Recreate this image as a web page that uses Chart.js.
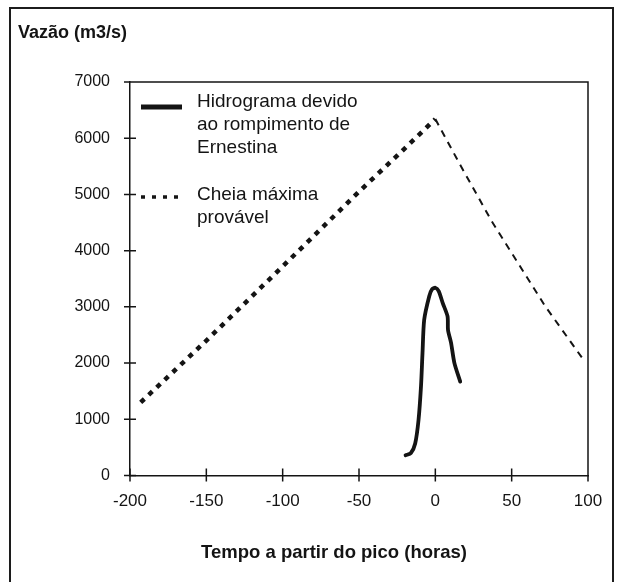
<!DOCTYPE html>
<html>
<head>
<meta charset="utf-8">
<script src="https://cdn.jsdelivr.net/npm/chart.js@4.4.1/dist/chart.umd.min.js"></script>
<style>
    html, body { margin: 0; padding: 0; background: #fff; overflow: hidden; width: 620px; height: 582px; }
    #frame { position: absolute; left: 9px; top: 7px; width: 601px; height: 640px; border: 2px solid #1c1c1c; }
    #wrap { position: absolute; left: 0; top: 0; width: 620px; height: 582px; }
</style>
</head>
<body>
<div id="frame"></div>
<div id="wrap"><canvas id="hidroChart"></canvas></div>
<script>
// Cheia maxima provavel (pontilhado ate o pico, tracejado depois)
var cmpHoras = [-193, -150, -100, -50, -25, 0, 16, 37, 59, 72, 97];
var cmpVazao = [1300, 2400, 3720, 5050, 5690, 6340, 5540, 4520, 3570, 3010, 2060];

// Hidrograma devido ao rompimento de Ernestina
var rompHoras = [-19.5, -16, -13.2, -11, -9.4, -8.4, -7.3, -4, -2.2, 0, 2.2, 4.8, 8, 8.3, 10.3, 12.5, 16.3];
var rompVazao = [360, 400, 570, 990, 1580, 2180, 2770, 3190, 3310, 3340, 3280, 3070, 2830, 2590, 2360, 2000, 1670];

var xTicks = [-200, -150, -100, -50, 0, 50, 100];
var yTicks = [0, 1000, 2000, 3000, 4000, 5000, 6000, 7000];

var legendas = ["Hidrograma devido\nao rompimento de\nErnestina", "Cheia máxima\nprovável"];
var tituloY = "Vazão (m3/s)";
var tituloX = "Tempo a partir do pico (horas)";

var fonte = "'Liberation Sans', Arial, sans-serif";
var tinta = "#141414";

function pares(xs, ys) {
    return xs.map(function (x, i) { return {x: x, y: ys[i]}; });
}

var moldura = {
    id: "moldura",
    afterDraw: function (chart) {
        var ctx = chart.ctx, a = chart.chartArea;
        var sx = chart.scales.x, sy = chart.scales.y;
        ctx.save();
        ctx.strokeStyle = tinta;
        ctx.lineWidth = 1.5;
        ctx.beginPath();
        ctx.moveTo(a.left, a.top);
        ctx.lineTo(a.right, a.top);
        ctx.lineTo(a.right, a.bottom);
        sx.ticks.forEach(function (t) {
            var px = sx.getPixelForValue(t.value);
            ctx.moveTo(px, a.bottom - 7);
            ctx.lineTo(px, a.bottom + 6);
        });
        sy.ticks.forEach(function (t) {
            var py = sy.getPixelForValue(t.value);
            ctx.moveTo(a.left - 6, py);
            ctx.lineTo(a.left + 6, py);
        });
        ctx.stroke();

        // legenda dentro do grafico
        var linhas = [
            {ds: 0, y: 25, ty: 20},
            {ds: 1, y: 115, ty: 113}
        ];
        ctx.fillStyle = tinta;
        ctx.font = "19px " + fonte;
        ctx.textBaseline = "middle";
        ctx.textAlign = "left";
        linhas.forEach(function (l) {
            var ds = chart.data.datasets[l.ds];
            ctx.beginPath();
            ctx.lineWidth = ds.legendWidth;
            ctx.setLineDash(ds.legendDash);
            ctx.lineCap = "butt";
            ctx.moveTo(a.left + 11, a.top + l.y);
            ctx.lineTo(a.left + 52, a.top + l.y);
            ctx.stroke();
            ctx.setLineDash([]);
            ds.label.split("\n").forEach(function (txt, i) {
                ctx.fillText(txt, a.left + 67, a.top + l.ty + i * 23);
            });
        });

        // titulo do eixo x
        ctx.font = "bold 18.5px " + fonte;
        ctx.textAlign = "center";
        ctx.fillText(tituloX, 334, 553);
        ctx.restore();
    }
};

new Chart("hidroChart", {
    type: "line",
    data: {
        datasets: [{
            label: legendas[0],
            data: pares(rompHoras, rompVazao),
            borderColor: tinta,
            borderWidth: 3.8,
            legendWidth: 5,
            legendDash: [],
            pointRadius: 0,
            tension: 0.25,
            borderJoinStyle: "round",
            borderCapStyle: "round"
        }, {
            label: legendas[1],
            data: pares(cmpHoras, cmpVazao),
            borderColor: tinta,
            borderWidth: 2,
            borderDash: [7, 6],
            legendWidth: 3.5,
            legendDash: [4, 7],
            pointRadius: 0,
            tension: 0,
            segment: {
                borderWidth: function (c) { return c.p0.parsed.x < 0 ? 4.5 : 2; },
                borderDash: function (c) { return c.p0.parsed.x < 0 ? [5, 6] : [7, 6]; }
            }
        }]
    },
    options: {
        responsive: true,
        maintainAspectRatio: false,
        animation: false,
        layout: {padding: {left: 18, right: 32, top: 22, bottom: 0}},
        scales: {
            x: {
                type: "linear",
                min: -200,
                max: 100,
                afterBuildTicks: function (s) { s.ticks = xTicks.map(function (v) { return {value: v}; }); },
                afterFit: function (s) { s.height = 106.5; },
                grid: {display: false, drawTicks: false},
                border: {display: true, color: tinta, width: 1.5},
                ticks: {
                    color: tinta, font: {family: fonte, size: 17}, padding: 16, maxRotation: 0,
                    callback: function (v) { return String(v); }
                }
            },
            y: {
                min: 0,
                max: 7000,
                afterBuildTicks: function (s) { s.ticks = yTicks.map(function (v) { return {value: v}; }); },
                afterFit: function (s) { s.width = 112; },
                grid: {display: false, drawTicks: false},
                border: {display: true, color: tinta, width: 1.5},
                ticks: {
                    color: tinta, font: {family: fonte, size: 16}, padding: 20,
                    callback: function (v) { return String(v); }
                }
            }
        },
        plugins: {
            legend: {display: false},
            tooltip: {enabled: false},
            title: {
                display: true,
                text: tituloY,
                align: "start",
                color: tinta,
                font: {family: fonte, size: 18, weight: "bold"},
                padding: {top: 0, bottom: 38.4}
            }
        }
    },
    plugins: [moldura]
});
</script>
</body>
</html>
